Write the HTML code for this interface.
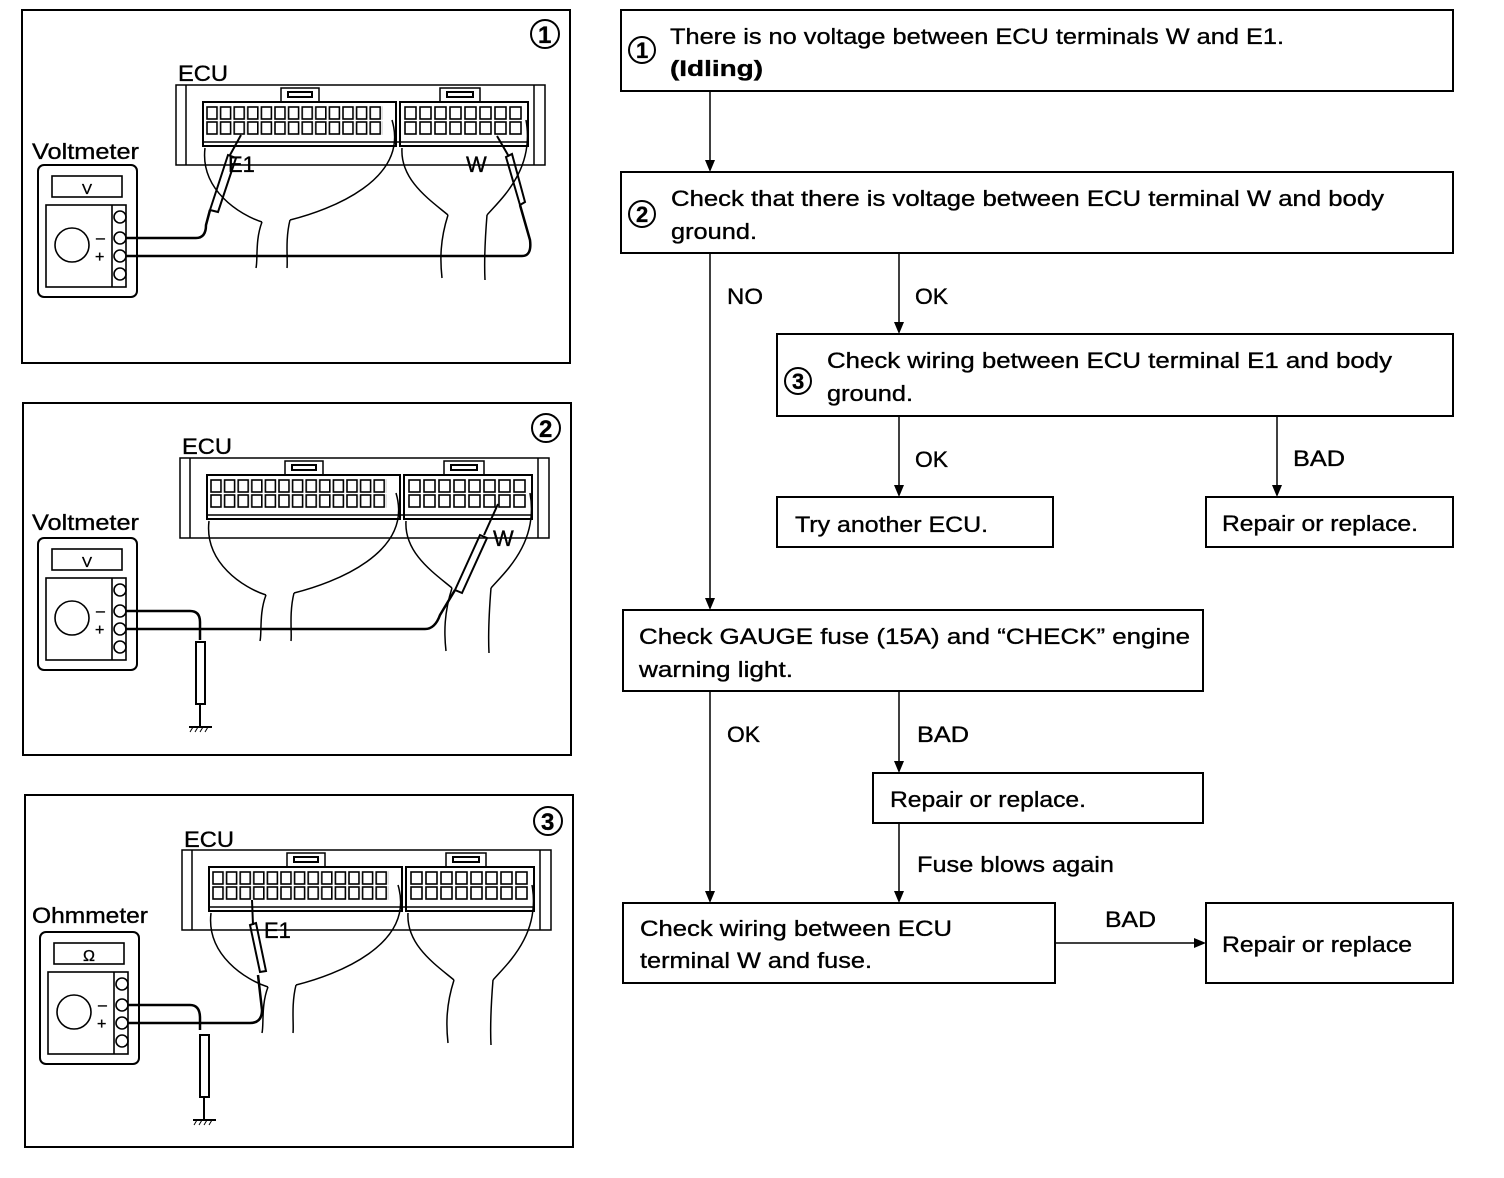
<!DOCTYPE html>
<html><head><meta charset="utf-8"><style>
html,body{margin:0;padding:0;background:#fff;}
svg{display:block;}
text{font-family:"Liberation Sans",sans-serif;fill:#000;stroke:#000;stroke-width:0.35;}
</style></head><body>
<svg width="1504" height="1178" viewBox="0 0 1504 1178" xmlns="http://www.w3.org/2000/svg">
<defs>
<pattern id="pl" x="206" y="106" width="13.6" height="15" patternUnits="userSpaceOnUse">
<rect x="1" y="1" width="10" height="12" fill="none" stroke="#000" stroke-width="1.6"/></pattern>
<pattern id="pr" x="404" y="106" width="15" height="15" patternUnits="userSpaceOnUse">
<rect x="1" y="1" width="11" height="12" fill="none" stroke="#000" stroke-width="1.6"/></pattern>
<g id="ecu" fill="none" stroke="#000" stroke-width="1.5">
<rect x="176" y="85" width="369" height="80"/>
<path d="M186 85 V165 M534 85 V165"/>
<rect x="203" y="102" width="193" height="44" stroke-width="2"/>
<rect x="206" y="106" width="177" height="30" fill="url(#pl)" stroke="none"/>
<rect x="400" y="102" width="128" height="44" stroke-width="2"/>
<rect x="404" y="106" width="120" height="30" fill="url(#pr)" stroke="none"/>
<rect x="281" y="88" width="38" height="14"/><rect x="288" y="92" width="24" height="5" stroke-width="2"/>
<rect x="440" y="88" width="40" height="14"/><rect x="447" y="92" width="26" height="5" stroke-width="2"/>
<path d="M203 142 H528"/>
<path d="M205 148 C200 190,240 215,262 222 M392 120 C410 180,330 210,290 220"/>
<path d="M262 222 C255 240,258 260,256 268 M290 220 C285 240,288 260,287 268"/>
<path d="M402 148 C400 180,430 200,448 215 M526 120 C535 170,500 200,487 215"/>
<path d="M448 215 C440 240,440 260,442 278 M487 215 C485 240,484 260,485 280"/>
</g>
<g id="meter" fill="none" stroke="#000" stroke-width="1.6">
<rect x="38" y="165" width="99" height="132" rx="6" stroke-width="2"/>
<rect x="52" y="176" width="70" height="21"/>
<rect x="46" y="205" width="80" height="82"/>
<path d="M112 205 V287"/>
<circle cx="72" cy="245" r="17"/>
<circle cx="120" cy="217" r="6"/><circle cx="120" cy="238" r="6"/><circle cx="120" cy="256" r="6"/><circle cx="120" cy="274" r="6"/>
</g>
</defs>

<!-- Panel 1 -->
<rect x="22" y="10" width="548" height="353" fill="none" stroke="#000" stroke-width="2"/>
<use href="#ecu"/><use href="#meter"/>
<circle cx="545" cy="34" r="14" fill="none" stroke="#000" stroke-width="2"/><text x="538" y="43" font-size="24" font-weight="bold">1</text>
<text x="178" y="81" font-size="22" textLength="50" lengthAdjust="spacingAndGlyphs">ECU</text>
<text x="32" y="159" font-size="22" textLength="107" lengthAdjust="spacingAndGlyphs">Voltmeter</text>
<text x="82" y="194" font-size="15">V</text>
<text x="96" y="243" font-size="16">–</text><text x="95" y="262" font-size="16">+</text>
<text x="228" y="172" font-size="22" stroke="#fff" stroke-width="4" paint-order="stroke">E1</text>
<text x="466" y="172" font-size="22" stroke="#fff" stroke-width="4" paint-order="stroke">W</text>
<g fill="none" stroke="#000" stroke-width="2.5">
<path d="M126 238 H196 Q206 238 206 225 L210 210"/>
<path d="M126 256 H522 Q532 256 530 240 L520 205"/>
</g>
<path d="M210 210 L228 155 L236 158 L218 212 Z M241 135 L230 155" fill="none" stroke="#000" stroke-width="2"/>
<path d="M520 205 L506 157 L512 154 L525 202 Z M497 136 L508 155" fill="none" stroke="#000" stroke-width="2"/>

<!-- Panel 2 -->
<rect x="23" y="403" width="548" height="352" fill="none" stroke="#000" stroke-width="2"/>
<use href="#ecu" transform="translate(4,373)"/><use href="#meter" transform="translate(0,373)"/>
<circle cx="546" cy="428" r="14" fill="none" stroke="#000" stroke-width="2"/><text x="539" y="437" font-size="24" font-weight="bold">2</text>
<text x="182" y="454" font-size="22" textLength="50" lengthAdjust="spacingAndGlyphs">ECU</text>
<text x="32" y="530" font-size="22" textLength="107" lengthAdjust="spacingAndGlyphs">Voltmeter</text>
<text x="82" y="567" font-size="15">V</text>
<text x="96" y="616" font-size="16">–</text><text x="95" y="635" font-size="16">+</text>
<text x="493" y="546" font-size="22" stroke="#fff" stroke-width="4" paint-order="stroke">W</text>
<g fill="none" stroke="#000" stroke-width="2.5">
<path d="M126 611 H190 Q200 611 200 622 V640"/>
<path d="M126 629 H425 Q435 629 440 615 L455 590"/>
</g>
<path d="M455 590 L480 535 L487 538 L462 593 Z M498 504 L484 535" fill="none" stroke="#000" stroke-width="2"/>
<rect x="196" y="642" width="9" height="62" fill="none" stroke="#000" stroke-width="2"/>
<path d="M200 704 V726 M189 727 H212" stroke="#000" stroke-width="2"/>
<path d="M190 732 l3 -5 M195 732 l3 -5 M200 732 l3 -5 M205 732 l3 -5" stroke="#000"/>

<!-- Panel 3 -->
<rect x="25" y="795" width="548" height="352" fill="none" stroke="#000" stroke-width="2"/>
<use href="#ecu" transform="translate(6,765)"/><use href="#meter" transform="translate(2,767)"/>
<circle cx="548" cy="821" r="14" fill="none" stroke="#000" stroke-width="2"/><text x="541" y="830" font-size="24" font-weight="bold">3</text>
<text x="184" y="847" font-size="22" textLength="50" lengthAdjust="spacingAndGlyphs">ECU</text>
<text x="32" y="923" font-size="22" textLength="116" lengthAdjust="spacingAndGlyphs">Ohmmeter</text>
<text x="83" y="961" font-size="16">Ω</text>
<text x="98" y="1010" font-size="16">–</text><text x="97" y="1029" font-size="16">+</text>
<text x="264" y="938" font-size="22" stroke="#fff" stroke-width="4" paint-order="stroke">E1</text>
<g fill="none" stroke="#000" stroke-width="2.5">
<path d="M128 1005 H190 Q200 1005 200 1018 V1030"/>
<path d="M128 1023 H250 Q262 1023 262 1010 L258 975"/>
</g>
<path d="M250 925 L260 972 L266 971 L256 923 Z M252 900 L253 925" fill="none" stroke="#000" stroke-width="2"/>
<rect x="200" y="1035" width="9" height="62" fill="none" stroke="#000" stroke-width="2"/>
<path d="M204 1097 V1120 M193 1120 H216" stroke="#000" stroke-width="2"/>
<path d="M194 1125 l3 -5 M199 1125 l3 -5 M204 1125 l3 -5 M209 1125 l3 -5" stroke="#000"/>

<!-- Flowchart -->
<g fill="none" stroke="#000" stroke-width="2">
<rect x="621" y="10" width="832" height="81"/>
<rect x="621" y="172" width="832" height="81"/>
<rect x="777" y="334" width="676" height="82"/>
<rect x="777" y="497" width="276" height="50"/>
<rect x="1206" y="497" width="247" height="50"/>
<rect x="623" y="610" width="580" height="81"/>
<rect x="873" y="773" width="330" height="50"/>
<rect x="623" y="903" width="432" height="80"/>
<rect x="1206" y="903" width="247" height="80"/>
<path stroke-width="1.5" d="M710 91 V168 M710 253 V606 M899 253 V330 M899 416 V493 M1277 416 V493 M710 691 V899 M899 691 V769 M899 823 V899 M1055 943 H1202"/>
<circle cx="642" cy="50" r="13"/><circle cx="642" cy="214" r="13"/><circle cx="798" cy="381" r="13"/>
</g>
<g fill="#000">
<path d="M705 160 L715 160 L710 172Z M705 598 L715 598 L710 610Z M894 322 L904 322 L899 334Z M894 485 L904 485 L899 497Z M1272 485 L1282 485 L1277 497Z M705 891 L715 891 L710 903Z M894 761 L904 761 L899 773Z M894 891 L904 891 L899 903Z M1194 938 L1194 948 L1206 943Z"/>
</g>
<g font-size="22">
<text x="636" y="58" font-weight="bold">1</text>
<text x="636" y="222" font-weight="bold">2</text>
<text x="792" y="389" font-weight="bold">3</text>
<text x="670" y="44" textLength="614" lengthAdjust="spacingAndGlyphs">There is no voltage between ECU terminals W and E1.</text>
<text x="670" y="76" font-weight="bold" textLength="93" lengthAdjust="spacingAndGlyphs">(Idling)</text>
<text x="671" y="206" textLength="713" lengthAdjust="spacingAndGlyphs">Check that there is voltage between ECU terminal W and body</text>
<text x="671" y="239" textLength="86" lengthAdjust="spacingAndGlyphs">ground.</text>
<text x="727" y="304" textLength="36" lengthAdjust="spacingAndGlyphs">NO</text><text x="915" y="304" textLength="33" lengthAdjust="spacingAndGlyphs">OK</text>
<text x="827" y="368" textLength="565" lengthAdjust="spacingAndGlyphs">Check wiring between ECU terminal E1 and body</text>
<text x="827" y="401" textLength="86" lengthAdjust="spacingAndGlyphs">ground.</text>
<text x="915" y="467" textLength="33" lengthAdjust="spacingAndGlyphs">OK</text><text x="1293" y="466" textLength="52" lengthAdjust="spacingAndGlyphs">BAD</text>
<text x="795" y="532" textLength="193" lengthAdjust="spacingAndGlyphs">Try another ECU.</text>
<text x="1222" y="531" textLength="196" lengthAdjust="spacingAndGlyphs">Repair or replace.</text>
<text x="639" y="644" textLength="551" lengthAdjust="spacingAndGlyphs">Check GAUGE fuse (15A) and “CHECK” engine</text>
<text x="639" y="677" textLength="154" lengthAdjust="spacingAndGlyphs">warning light.</text>
<text x="727" y="742" textLength="33" lengthAdjust="spacingAndGlyphs">OK</text><text x="917" y="742" textLength="52" lengthAdjust="spacingAndGlyphs">BAD</text>
<text x="890" y="807" textLength="196" lengthAdjust="spacingAndGlyphs">Repair or replace.</text>
<text x="917" y="872" textLength="197" lengthAdjust="spacingAndGlyphs">Fuse blows again</text>
<text x="640" y="936" textLength="312" lengthAdjust="spacingAndGlyphs">Check wiring between ECU</text>
<text x="640" y="968" textLength="232" lengthAdjust="spacingAndGlyphs">terminal W and fuse.</text>
<text x="1105" y="927" textLength="51" lengthAdjust="spacingAndGlyphs">BAD</text>
<text x="1222" y="952" textLength="190" lengthAdjust="spacingAndGlyphs">Repair or replace</text>
</g>
</svg>
</body></html>
